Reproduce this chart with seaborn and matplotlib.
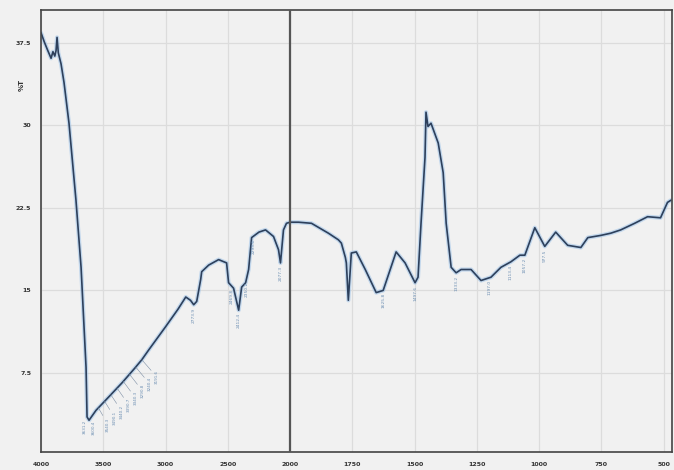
import numpy as np
import pandas as pd
import matplotlib
matplotlib.use("Agg")
import matplotlib.pyplot as plt
import seaborn as sns
from matplotlib.ticker import FixedLocator, NullFormatter

# ---------------- data ----------------
wavenumber = [4000, 3975, 3950, 3920, 3905, 3890, 3880, 3872, 3862, 3840, 3816, 3776,
              3720, 3679, 3639, 3631, 3615, 3559, 3450, 3350, 3250, 3191, 3135, 3000,
              2900, 2838, 2800, 2774, 2750, 2718, 2710, 2654, 2574, 2510, 2494, 2454,
              2413, 2389, 2357, 2333, 2309, 2250, 2197, 2133, 2093, 2077, 2053, 2029,
              2000, 1966, 1914, 1846, 1806, 1794, 1778, 1774, 1766, 1754, 1734, 1698,
              1654, 1626, 1574, 1538, 1498, 1486, 1474, 1458, 1454, 1446, 1434, 1405,
              1385, 1373, 1353, 1333, 1313, 1273, 1233, 1193, 1153, 1113, 1077, 1057,
              1017, 977, 933, 885, 832, 804, 752, 712, 672, 616, 564, 512, 484, 470]
transmittance = [38.4, 37.6, 36.9, 36.1, 36.7, 36.3, 36.8, 38.0, 36.6, 35.6, 33.9, 30.2,
                 23.2, 17.1, 8.0, 3.5, 3.2, 4.1, 5.4, 6.6, 7.9, 8.7, 9.6, 11.7,
                 13.3, 14.4, 14.1, 13.7, 14.0, 16.0, 16.7, 17.3, 17.8, 17.5, 15.7, 15.2,
                 13.2, 15.3, 15.7, 16.9, 19.8, 20.3, 20.5, 19.9, 18.7, 17.5, 20.5, 21.1,
                 21.2, 21.2, 21.1, 20.2, 19.6, 19.3, 18.0, 17.5, 14.1, 18.4, 18.5, 16.9,
                 14.8, 15.0, 18.5, 17.5, 15.7, 16.2, 21.1, 27.1, 31.2, 29.9, 30.2, 28.4,
                 25.7, 21.1, 17.1, 16.6, 16.9, 16.9, 15.9, 16.2, 17.1, 17.6, 18.2, 18.2,
                 20.7, 19.0, 20.3, 19.1, 18.9, 19.8, 20.0, 20.2, 20.5, 21.1, 21.7, 21.6, 23.0, 23.2]

# peak labels (vertical text under bands)
peak_wn = [2774, 2470, 2413, 2350, 2293, 2077, 1626, 1498, 1333, 1197, 1113, 1057, 977]
peak_txt = ["2773.9", "2469.8", "2412.4", "2350.2", "2293.6", "2077.3", "1625.8",
            "1497.6", "1333.2", "1197.0", "1113.4", "1057.2", "977.5"]
# crowded labels on the broad O-H band
cluster_wn = [3631, 3600, 3540, 3490, 3440, 3390, 3340, 3290, 3240, 3191]
cluster_txt = ["3631.2", "3600.4", "3540.3", "3490.1", "3440.2", "3390.7",
               "3340.3", "3290.8", "3240.4", "3191.6"]

x_ticks = [4000, 3500, 3000, 2500, 2000, 1750, 1500, 1250, 1000, 750, 500]
y_ticks = [7.5, 15, 22.5, 30, 37.5]
y_ticklabels = ["7.5", "15", "22.5", "30", "37.5"]

df = pd.DataFrame({"wn": wavenumber, "T": transmittance})

# ---------------- style ----------------
sns.set_style("white")
plt.rcParams["font.family"] = ["DejaVu Sans"]
bg = "#f1f1f1"

fig = plt.figure(figsize=(6.74, 4.70), dpi=100, facecolor=bg)
ax = fig.add_axes([0.061, 0.038, 0.936, 0.941])
ax.set_facecolor(bg)


# piecewise-linear wavenumber scale (500 cm-1 per division above 2000, 250 below)
def fwd(x):
    x = np.asarray(x, dtype=float)
    return np.where(x >= 2000, (x - 4000) / 500.0, (x - 2000) / 250.0 - 4)


def inv(v):
    v = np.asarray(v, dtype=float)
    return np.where(v >= -4, 4000 + 500.0 * v, 2000 + 250.0 * (v + 4))


ax.set_xscale("function", functions=(fwd, inv))

# halo + line
sns.lineplot(data=df, x="wn", y="T", ax=ax, color="#9cc2e8", lw=3.0, alpha=0.55,
             sort=False, estimator=None)
sns.lineplot(data=df, x="wn", y="T", ax=ax, color="#2d405c", lw=1.2,
             sort=False, estimator=None)

ax.set_xlim(4000, 466)
ax.set_ylim(0.3, 40.5)

# axis-break line at 2000
ax.axvline(2000, color="#555555", lw=1.6, zorder=3)

# ticks
ax.xaxis.set_major_locator(FixedLocator(x_ticks))
ax.set_xticklabels([str(t) for t in x_ticks])
minor_x = list(range(3900, 2000, -100)) + list(range(1950, 450, -50))
ax.xaxis.set_minor_locator(FixedLocator(minor_x))
ax.xaxis.set_minor_formatter(NullFormatter())
ax.yaxis.set_major_locator(FixedLocator(y_ticks))
ax.set_yticklabels(y_ticklabels)
ax.yaxis.set_minor_locator(FixedLocator(np.arange(1.5, 40.5, 1.5)))

ax.tick_params(axis="both", which="major", direction="out", length=5, width=1.0,
               color="#333333", labelsize=4.5, labelcolor="#333333", pad=2)
ax.tick_params(axis="both", which="minor", direction="out", length=3, width=0.9,
               color="#333333")
for lab in ax.get_xticklabels() + ax.get_yticklabels():
    lab.set_fontweight("bold")

ax.grid(True, which="major", color="#dcdcdc", lw=0.9)
for side in ["left", "bottom", "top", "right"]:
    ax.spines[side].set_color("#444444")
    ax.spines[side].set_linewidth(1.2)

ax.set_xlabel("")
ax.set_ylabel("")
ax.text(-0.03, 33.7, "%T", rotation=90, transform=ax.get_yaxis_transform(),
        ha="center", va="center", fontsize=5, fontweight="bold", color="#333333")

# ---------------- peak labels ----------------
wn_inc = np.array(wavenumber[::-1], dtype=float)
t_inc = np.array(transmittance[::-1], dtype=float)
lab_col = "#6d8fb3"

for w, s in zip(peak_wn, peak_txt):
    tv = np.interp(w, wn_inc, t_inc)
    ax.annotate(s, xy=(w, tv), xytext=(0, -2), textcoords="offset points",
                rotation=90, ha="center", va="top", fontsize=3.2, color=lab_col,
                zorder=4)

for i, (w, s) in enumerate(zip(cluster_wn, cluster_txt)):
    tv = np.interp(w, wn_inc, t_inc)
    if i < 2:
        ax.annotate(s, xy=(w, tv), xytext=(-2 + 4 * i, -2), textcoords="offset points",
                    rotation=90, ha="center", va="top", fontsize=3.0, color=lab_col,
                    zorder=4)
    else:
        ax.annotate(s, xy=(w, tv), xytext=(6 + 0.5 * i, -7), textcoords="offset points",
                    rotation=90, ha="center", va="top", fontsize=3.0, color=lab_col,
                    arrowprops=dict(arrowstyle="-", lw=0.4, color="#7d8fa5",
                                    shrinkA=0, shrinkB=0),
                    zorder=4)

fig.savefig("out.png", dpi=100, facecolor=bg)
